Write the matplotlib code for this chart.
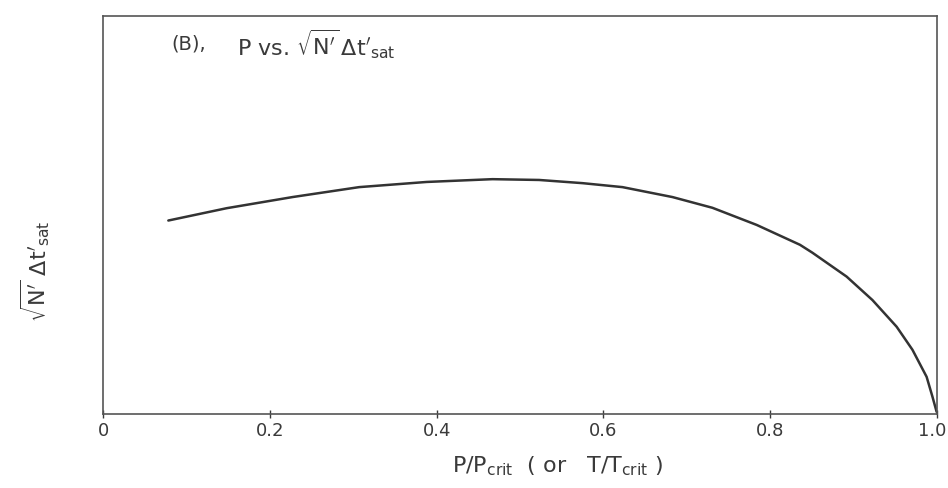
import matplotlib.pyplot as plt
import matplotlib.transforms as mtransforms

# values (y axis has no scale, 0..1 relative)
p_ratio = [0.078, 0.148, 0.227, 0.307, 0.388, 0.467, 0.523, 0.575, 0.623,
           0.683, 0.731, 0.784, 0.836, 0.851, 0.892, 0.923, 0.952, 0.971,
           0.988, 0.995, 1.0]
dt_sat = [0.486, 0.517, 0.545, 0.570, 0.583, 0.590, 0.588, 0.580, 0.570,
          0.545, 0.518, 0.475, 0.425, 0.405, 0.345, 0.286, 0.219, 0.161,
          0.093, 0.043, 0.005]
xtick_vals = [0, 0.2, 0.4, 0.6, 0.8, 1.0]
xtick_labels = ['0', '0.2', '0.4', '0.6', '0.8', '1.0']

plt.rcParams['mathtext.fontset'] = 'dejavusans'
ink = '#3a3a3a'

fig = plt.figure(figsize=(9.48, 4.88), dpi=100)
ax = fig.add_axes([0.109, 0.152, 0.879, 0.815])

ax.plot(p_ratio, dt_sat, color='#333333', lw=1.8, solid_capstyle='round',
        solid_joinstyle='round')

ax.set_xlim(0, 1.0)
ax.set_ylim(0, 1.0)
ax.set_xticks(xtick_vals)
ax.set_xticklabels(xtick_labels, fontsize=13, color=ink)
ax.set_yticks([])
ax.tick_params(axis='x', direction='inout', length=6, width=1, color=ink, pad=3)
for s in ax.spines.values():
    s.set_color('#555555')
    s.set_linewidth(1.2)

# keep the "1.0" label inside the figure
last = ax.get_xticklabels()[-1]
last.set_transform(last.get_transform() +
                   mtransforms.ScaledTranslation(-0.04, 0, fig.dpi_scale_trans))

ax.text(0.082, 0.93, '(B),', transform=ax.transAxes, fontsize=14, color=ink,
        va='center')
ax.text(0.16, 0.93, r"P vs. $\sqrt{\mathrm{N'}}\,\mathrm{\Delta t'_{sat}}$",
        transform=ax.transAxes, fontsize=16, color=ink, va='center')

fig.text(0.588, 0.045, r"$\mathregular{P/P_{crit}}$  ( or   $\mathregular{T/T_{crit}}$ )",
         fontsize=16, color=ink, ha='center', va='center')
fig.text(0.037, 0.445, r"$\sqrt{\mathrm{N'}}\;\mathrm{\Delta t'_{sat}}$", rotation=90,
         fontsize=16, color=ink, ha='center', va='center')

fig.savefig('out.png', dpi=100, facecolor='white')
